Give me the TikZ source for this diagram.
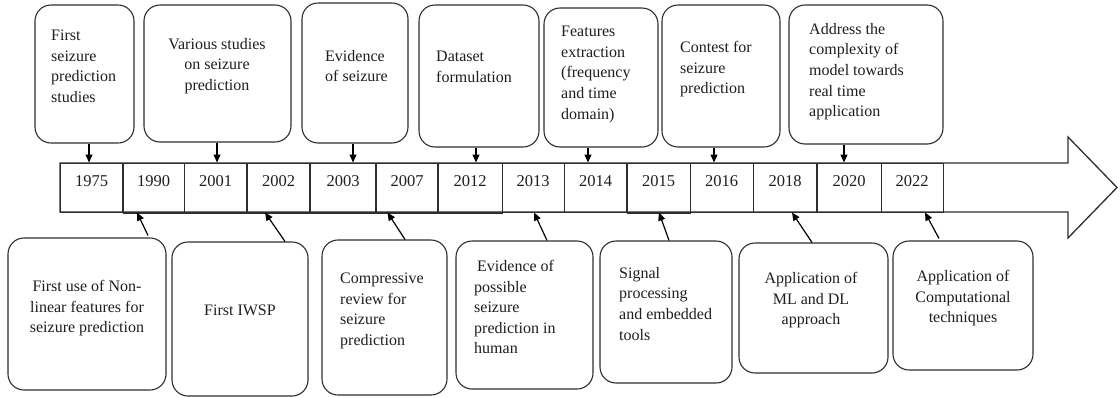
\documentclass[tikz,border=0pt]{standalone}
\usepackage{fontspec}
\setmainfont{Liberation Serif}
\newfontfamily\boxfont{Liberation Serif}
\usetikzlibrary{arrows.meta}
\definecolor{ink}{HTML}{2E2E2E}
\definecolor{txtc}{HTML}{1E1E1E}
\begin{document}
\begin{tikzpicture}[x=1pt,y=-1pt,
  box/.style={draw=ink, line width=1.1pt, rounded corners=16pt, inner sep=0pt},
  cell/.style={draw=ink, line width=1pt, minimum height=49pt, inner sep=0pt},
  heavy/.style={draw=ink, line width=2pt},
  txt/.style={font=\boxfont\fontsize{16}{20.6}\selectfont, text=txtc, inner sep=0pt},
  yr/.style={font=\boxfont\fontsize{16.5}{18}\selectfont, text=txtc, inner sep=0pt},
  link/.style={draw=black, line width=1.2pt, -{Triangle[length=8pt,width=7pt]}}]
\useasboundingbox (0,0) rectangle (1120,397);

% timeline arrow body
\draw[ink, line width=1.3pt, line join=miter]
  (60,163) -- (1068,163) -- (1068,137) -- (1117,187.5) -- (1068,238)
  -- (1068,212) -- (60,212) -- cycle;

% year cells
\foreach \l/\r/\yr in {60/123/1975,123/184/1990,184/247/2001,247/310/2002,
  310/376/2003,376/438/2007,438/502/2012,502/564/2013,564/627/2014,
  627/690/2015,690/753/2016,753/817/2018,817/881/2020,881/943/2022}{
  \node[cell, minimum width={(\r-\l)*1pt}] (c\yr) at ({(\l+\r)/2},187.5) {};
  \node[yr] (y\yr) at ([yshift=6pt]c\yr.center) {\yr};
}

% heavier cell borders
\draw[heavy] (c1990.north west) -- (c1990.south west);
\draw[heavy] (c2002.north west) -- (c2002.south west);
\draw[heavy] (c2003.north west) -- (c2003.south west);
\draw[heavy] (c2007.north west) -- (c2007.south west);
\draw[heavy] (c2012.north west) -- (c2012.south west);
\draw[heavy] (c2015.north west) -- (c2015.south west);
\draw[heavy] (c2020.north west) -- (c2020.south west);
\draw[heavy] (c1990.south west) -- (c2012.south east);
\draw[heavy] (c2015.south west) -- (c2015.south east);

% upper event boxes
\node[box, minimum width=99pt,  minimum height=138pt] (t1) at (84.5,74) {};
\node[box, minimum width=147pt, minimum height=137pt] (t2) at (217.5,73.5) {};
\node[box, minimum width=106pt, minimum height=140pt] (t3) at (355,73) {};
\node[box, minimum width=120pt, minimum height=142pt] (t4) at (479,76) {};
\node[box, minimum width=114pt, minimum height=139pt] (t5) at (601,77.5) {};
\node[box, minimum width=118pt, minimum height=142pt] (t6) at (721,76) {};
\node[box, minimum width=154pt, minimum height=139pt] (t7) at (866,74.5) {};

\node[txt, align=left, anchor=north west] (t1x) at (51,30)
  {First\\seizure\\prediction\\studies};
\node[txt, align=center, anchor=north] (t2x) at (217,38)
  {Various studies\\on seizure\\prediction};
\node[txt, align=left, anchor=north west] (t3x) at (325,50)
  {Evidence\\of seizure};
\node[txt, align=left, anchor=north west] (t4x) at (436,51)
  {Dataset\\formulation};
\node[txt, align=left, anchor=north west] (t5x) at (561,26)
  {Features\\extraction\\(frequency\\and time\\domain)};
\node[txt, align=left, anchor=north west] (t6x) at (680,41)
  {Contest for\\seizure\\prediction};
\node[txt, align=left, anchor=north west] (t7x) at (809,23)
  {Address the\\complexity of\\model towards\\real time\\application};

% lower event boxes
\node[box, minimum width=158pt, minimum height=152pt] (b1) at (87,314) {};
\node[box, minimum width=136pt, minimum height=154pt] (b2) at (240,319) {};
\node[box, minimum width=125pt, minimum height=155pt] (b3) at (384.5,317.5) {};
\node[box, minimum width=137pt, minimum height=148pt] (b4) at (524.5,315) {};
\node[box, minimum width=132pt, minimum height=142pt] (b5) at (666,312) {};
\node[box, minimum width=149pt, minimum height=130pt] (b6) at (813.5,308) {};
\node[box, minimum width=140pt, minimum height=129pt] (b7) at (963,305.5) {};

\node[txt, align=center, anchor=north] (b1x) at (87,280)
  {First use of Non-\\linear features for\\seizure prediction};
\node[txt, align=center, anchor=north] (b2x) at (240,305) {First IWSP};
\node[txt, align=left, anchor=north west] (b3x) at (340,273)
  {Compressive\\review for\\seizure\\prediction};
\node[txt, align=left, anchor=north west] (b4x) at (474,260)
  {\hspace{3pt}Evidence of\\possible\\seizure\\prediction in\\human};
\node[txt, align=left, anchor=north west] (b5x) at (619,267)
  {Signal\\processing\\and embedded\\tools};
\node[txt, align=center, anchor=north] (b6x) at (811,272)
  {Application of\\ML and DL\\approach};
\node[txt, align=center, anchor=north] (b7x) at (963,270)
  {Application of\\Computational\\techniques};

% connectors from upper boxes
\draw[link] ([xshift=4.5pt]t1.south) -- ([xshift=-2.5pt]c1975.north);
\draw[link] ([xshift=-0.5pt]t2.south) -- ([xshift=1.5pt]c2001.north);
\draw[link] ([xshift=-2pt]t3.south) -- ([xshift=10pt]c2003.north);
\draw[link] ([xshift=-3pt]t4.south) -- ([xshift=6pt]c2012.north);
\draw[link] ([xshift=-13pt]t5.south) -- ([xshift=-7.5pt]c2014.north);
\draw[link] ([xshift=-7pt]t6.south) -- ([xshift=-7.5pt]c2016.north);
\draw[link] ([xshift=-22pt]t7.south) -- ([xshift=-5pt]c2020.north);

% connectors from lower boxes
\draw[link] ([xshift=61pt,yshift=2pt]b1.north) -- ([xshift=-16.5pt]c1990.south);
\draw[link] ([xshift=45pt]b2.north) -- ([xshift=-13.5pt]c2002.south);
\draw[link] ([xshift=20.5pt]b3.north) -- ([xshift=-19.5pt]c2007.south);
\draw[link] ([xshift=22.5pt]b4.north) -- ([xshift=1pt]c2013.south);
\draw[link] ([xshift=3pt]b5.north) -- ([xshift=0.5pt]c2015.south);
\draw[link] ([xshift=-1.5pt]b6.north) -- ([xshift=7pt]c2018.south);
\draw[link] ([xshift=-24pt,yshift=2pt]b7.north) -- ([xshift=13pt]c2022.south);
\end{tikzpicture}
\end{document}
